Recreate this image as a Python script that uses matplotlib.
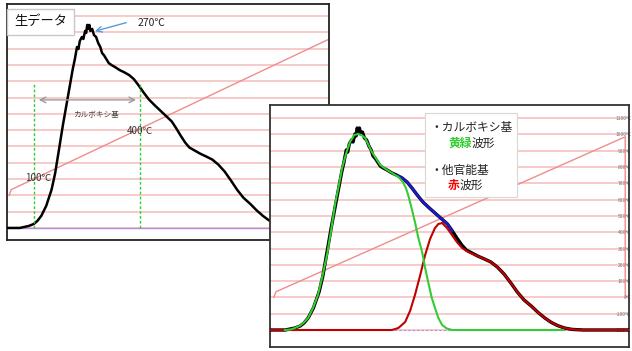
import matplotlib
matplotlib.use("Agg")
import matplotlib.pyplot as plt

plt.rcParams['font.family'] = ['Noto Sans CJK JP', 'DejaVu Sans']

# raw signal (time axis, normalised intensity)
raw_t = [24, 60, 86, 100, 110, 121, 135, 150, 160, 172, 182, 193, 202, 210,
         216, 222, 226, 230, 236, 240, 245, 248, 251, 254, 257, 260, 265,
         270, 276, 282, 288, 293, 298, 305, 312, 320, 330, 343, 355, 370,
         383, 396, 410, 425, 442, 460, 475, 490, 503, 515, 528, 540, 555,
         570, 588, 605, 622, 640, 658, 675, 693, 712, 730, 748, 765, 782,
         800, 820, 850, 1000]
raw_i = [0, 0, 1, 2, 3.5, 6, 11, 19, 27, 40, 51, 62, 71, 79,
         84, 90, 89, 93, 95, 94, 98, 97, 101, 99, 101, 98, 99,
         96, 95, 92, 90, 87, 86, 84, 82, 81, 80, 78.5, 77.5, 76,
         74, 71, 67.5, 64, 61, 58, 55.5, 53, 49.5, 46, 42.5, 40, 38.5,
         37, 35.5, 34, 31.5, 28, 23.5, 19, 15, 12, 8.8, 6, 3.8, 2.2,
         1, 0.3, 0, 0]

# carboxyl component (yellow-green)
green_t = [60, 75, 86, 100, 110, 121, 134, 147, 159, 171, 182, 192, 202,
           211, 222, 232, 243, 253, 262, 272, 290, 312, 330, 343, 360, 372,
           380, 386, 395, 404, 413, 423, 431, 439, 448, 457, 466, 476, 488,
           502, 796]
green_i = [0, 0.3, 1, 2.2, 3.8, 6, 11, 17.5, 27, 37.5, 50, 62.5, 72,
           81, 88.5, 94, 97.5, 98, 97.5, 96, 89, 82.5, 80, 78.5, 76.5, 74,
           71, 67.5, 61, 54, 46, 39, 31, 24, 16.5, 11, 6, 2.5, 0.8,
           0, 0]

# other functional groups (red)
red_t = [20, 343, 360, 378, 391, 404, 418, 431, 444, 457, 466, 476, 489,
         502, 515, 529, 545, 560, 570, 588, 605, 622, 640, 658, 675, 693,
         712, 730, 748, 765, 782, 800, 820, 850, 971]
red_i = [0, 0, 1, 4, 9.5, 17.5, 27.5, 37.5, 45.5, 51, 53, 53.5, 51,
         47.5, 44, 41, 39, 37.8, 37, 35.5, 34, 31.5, 28, 23.5, 19, 15,
         12, 8.8, 6, 3.8, 2.2, 1, 0.3, 0, 0]

# fitted sum (blue)
fit_t = [359, 370, 383, 396, 410, 425, 442, 460, 475, 490, 502]
fit_i = [77, 76, 74, 71, 67.5, 64, 61, 58, 55.5, 53, 49.5]

# temperature programme
ramp_t = [30, 36, 961, 961]
ramp_c = [0, 35, 985, 0]
temp_ticks = list(range(-200, 1101, 100))

W, H = 632, 351
fig = plt.figure(figsize=(W / 100, H / 100), dpi=100)
fig.patch.set_facecolor('white')


def panel(box, xlim, ilim, clim, z, edge):
    x0, y0, x1, y1 = box
    ax = fig.add_axes([x0 / W, 1 - y1 / H, (x1 - x0) / W, (y1 - y0) / H])
    ax.set_zorder(z)
    ax.set_facecolor('white')
    ax2 = ax.twinx()
    ax2.set_zorder(z + 1)
    ax.set_xlim(xlim)
    ax.set_ylim(clim)
    ax.set_xticks([])
    ax.set_yticks(temp_ticks)
    ax.grid(axis='y', color='#f8c6c6', lw=1.3)
    ax.tick_params(axis='y', left=False, right=False, labelleft=False, labelright=False)
    for s in ax.spines.values():
        s.set_color(edge)
        s.set_linewidth(1.3)
    ax.plot(ramp_t, ramp_c, color='#f08c8c', lw=1.0)
    ax2.set_ylim(ilim)
    ax2.set_xlim(xlim)
    ax2.set_yticks([])
    ax2.set_xticks([])
    for s in ax2.spines.values():
        s.set_visible(False)
    return ax, ax2


# ── left panel: raw data ──────────────────────────────────────────────
axL, axL2 = panel((7, 4, 329, 240), (24, 935), (-6, 111.4), (-274, 1174), 1, '#222222')
axL2.axhline(0, color='#b48cd8', lw=1.0)
axL2.plot(raw_t, raw_i, color='black', lw=1.8)
axL2.vlines([100, 400], 0, 71.6, colors='#33cc33', linestyles=(0, (2, 1.5)), lw=1.0)
axL2.annotate('', xy=(397, 63.7), xytext=(106, 63.7),
              arrowprops=dict(arrowstyle='<->', color='#9a9a9a', lw=1.0))
axL2.text(276, 56, 'カルボキシ基', fontsize=5.5, color='#444444', ha='center', va='center')
axL2.text(400, 48, '400℃', fontsize=7, color='#333333', ha='center', va='center')
axL2.text(111, 25, '100℃', fontsize=7, color='#333333', ha='center', va='center')
axL2.annotate('', xy=(265, 97.5), xytext=(369, 102.5),
              arrowprops=dict(arrowstyle='->', color='#5b9bd5', lw=1.0))
axL2.text(434, 102, '270℃', fontsize=7.5, color='#222222', ha='center', va='center')
axL2.text(0.104, 0.924, '生データ', transform=axL2.transAxes, fontsize=9.5,
          ha='center', va='center', color='#111111',
          bbox=dict(boxstyle='square,pad=0.5', facecolor='white', edgecolor='#c8c8c8', lw=1.0))

# ── right panel: peak separation ──────────────────────────────────────
axR, axR2 = panel((270, 105, 629, 347), (20, 971), (-8.5, 112.5), (-304, 1180), 3, '#333333')
axR.tick_params(axis='y', labelright=True, pad=-2, labelsize=3.6, labelcolor='#777777')
axR.set_yticklabels([f'{v}℃' for v in temp_ticks])
for lbl in axR.get_yticklabels():
    lbl.set_horizontalalignment('right')

axR2.axhline(0, color='#b48cd8', lw=0.8, ls=(0, (2, 2)))
axR2.plot(raw_t, raw_i, color='black', lw=2.4)
axR2.plot(fit_t, fit_i, color='#1a1acc', lw=1.8)
axR2.plot(red_t, red_i, color='#c00000', lw=1.5)
axR2.plot(green_t, green_i, color='#33cc33', lw=1.5)

axR2.add_patch(plt.Rectangle((0.432, 0.62), 0.256, 0.347, transform=axR2.transAxes,
                             facecolor='white', edgecolor='#d8d8d8', lw=0.8, zorder=5))
fs = 8.5
axR2.text(0.446, 0.905, '・カルボキシ基', transform=axR2.transAxes, fontsize=fs,
          va='center', color='#222222', zorder=6)
axR2.annotate('黄緑', xy=(0.496, 0.843), xycoords='axes fraction', fontsize=fs,
              va='center', color='#33cc33', fontweight='bold', zorder=6)
axR2.annotate('波形', xy=(0.496, 0.843), xycoords='axes fraction', xytext=(2 * fs, 0),
              textcoords='offset points', fontsize=fs, va='center', color='#222222', zorder=6)
axR2.text(0.446, 0.731, '・他官能基', transform=axR2.transAxes, fontsize=fs,
          va='center', color='#222222', zorder=6)
axR2.annotate('赤', xy=(0.496, 0.669), xycoords='axes fraction', fontsize=fs,
              va='center', color='#ff0000', fontweight='bold', zorder=6)
axR2.annotate('波形', xy=(0.496, 0.669), xycoords='axes fraction', xytext=(fs, 0),
              textcoords='offset points', fontsize=fs, va='center', color='#222222', zorder=6)

fig.savefig('out.png', dpi=100, facecolor='white')
